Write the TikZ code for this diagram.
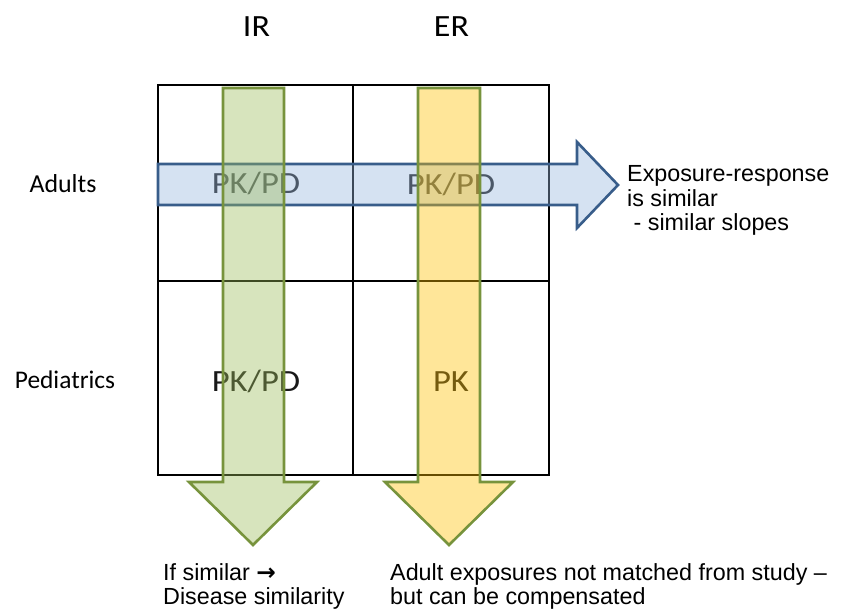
\documentclass[tikz,border=0pt]{standalone}
\usepackage{fontspec}
\setmainfont{Carlito}
\newfontfamily\arialfont{Liberation Sans}
\newfontfamily\symbolfont{DejaVu Sans}
\definecolor{irfill}{RGB}{155,187,89}
\definecolor{erfill}{RGB}{255,192,0}
\definecolor{arrowedge}{RGB}{119,147,60}
\definecolor{adultfill}{RGB}{150,182,222}
\definecolor{adultedge}{RGB}{56,93,138}
\tikzset{
  cellgrid/.style={line width=1.6bp, black},
  bigarrow/.style={line width=2.6bp, fill opacity=0.4, line join=miter},
  header/.style={font=\fontsize{31}{36}\selectfont, anchor=base, inner sep=0pt, xscale=1.1},
  rowlabel/.style={font=\fontsize{26}{30}\selectfont, anchor=base, inner sep=0pt},
  cellfont/.style={font=\fontsize{31}{36}\selectfont, anchor=base, inner sep=0pt, xscale=1.12, text=black!90},
  note/.style={font=\arialfont\fontsize{23.4}{27}\selectfont, anchor=base west, inner sep=0pt}
}
\begin{document}
\begin{tikzpicture}[x=1bp, y=-1bp]
  \useasboundingbox (0,0) rectangle (848,613);

  % column and row headings
  \node[header] (ir) at (256.5,37) {IR};
  \node[header] (er) at (451.5,37) {ER};
  \node[rowlabel] (adults) at (63,193) {Adults};
  \node[rowlabel,font=\fontsize{25.5}{30}\selectfont] (peds) at (65,388) {Pediatrics};

  % 2x2 table
  \draw[cellgrid] (158,85) rectangle (549,475);
  \draw[cellgrid] (353,85) -- (353,475);
  \draw[cellgrid] (158,281) -- (549,281);

  % cell contents
  \node[cellfont] (adir) at (256,194) {PK/PD};
  \node[cellfont] (ader) at (451,195) {PK/PD};
  \node[cellfont] (pdir) at (256,391) {PK/PD};
  \node[cellfont] (pder) at (451,391) {PK};

  % exposure-response across adults
  \draw[bigarrow, draw=adultedge, fill=adultfill]
    (158,164) -- (577,164) -- (577,142) -- (618,185) -- (577,228) -- (577,205) -- (158,205) -- cycle;

  % bridging arrows down each formulation column
  \draw[bigarrow, draw=arrowedge, fill=irfill]
    (223,88) -- (284,88) -- (284,482) -- (317,482) -- (253,545) -- (189,482) -- (223,482) -- cycle;
  \draw[bigarrow, draw=arrowedge, fill=erfill]
    (418,88) -- (480,88) -- (480,482) -- (513,482) -- (449,545) -- (385,482) -- (418,482) -- cycle;

  % annotations
  \node[note] (er1) at (627,182) {Exposure-response};
  \node[note] (er2) at (627,206.5) {is similar};
  \node[note] (er3) at (627,231) {\ - similar slopes};

  \node[note] (ir1) at (163,580) {If similar {\symbolfont\bfseries →}};
  \node[note] (ir2) at (163,604) {Disease similarity};
  \node[note] (ex1) at (390,580) {Adult exposures not matched from study –};
  \node[note] (ex2) at (390,604) {but can be compensated};
\end{tikzpicture}
\end{document}
